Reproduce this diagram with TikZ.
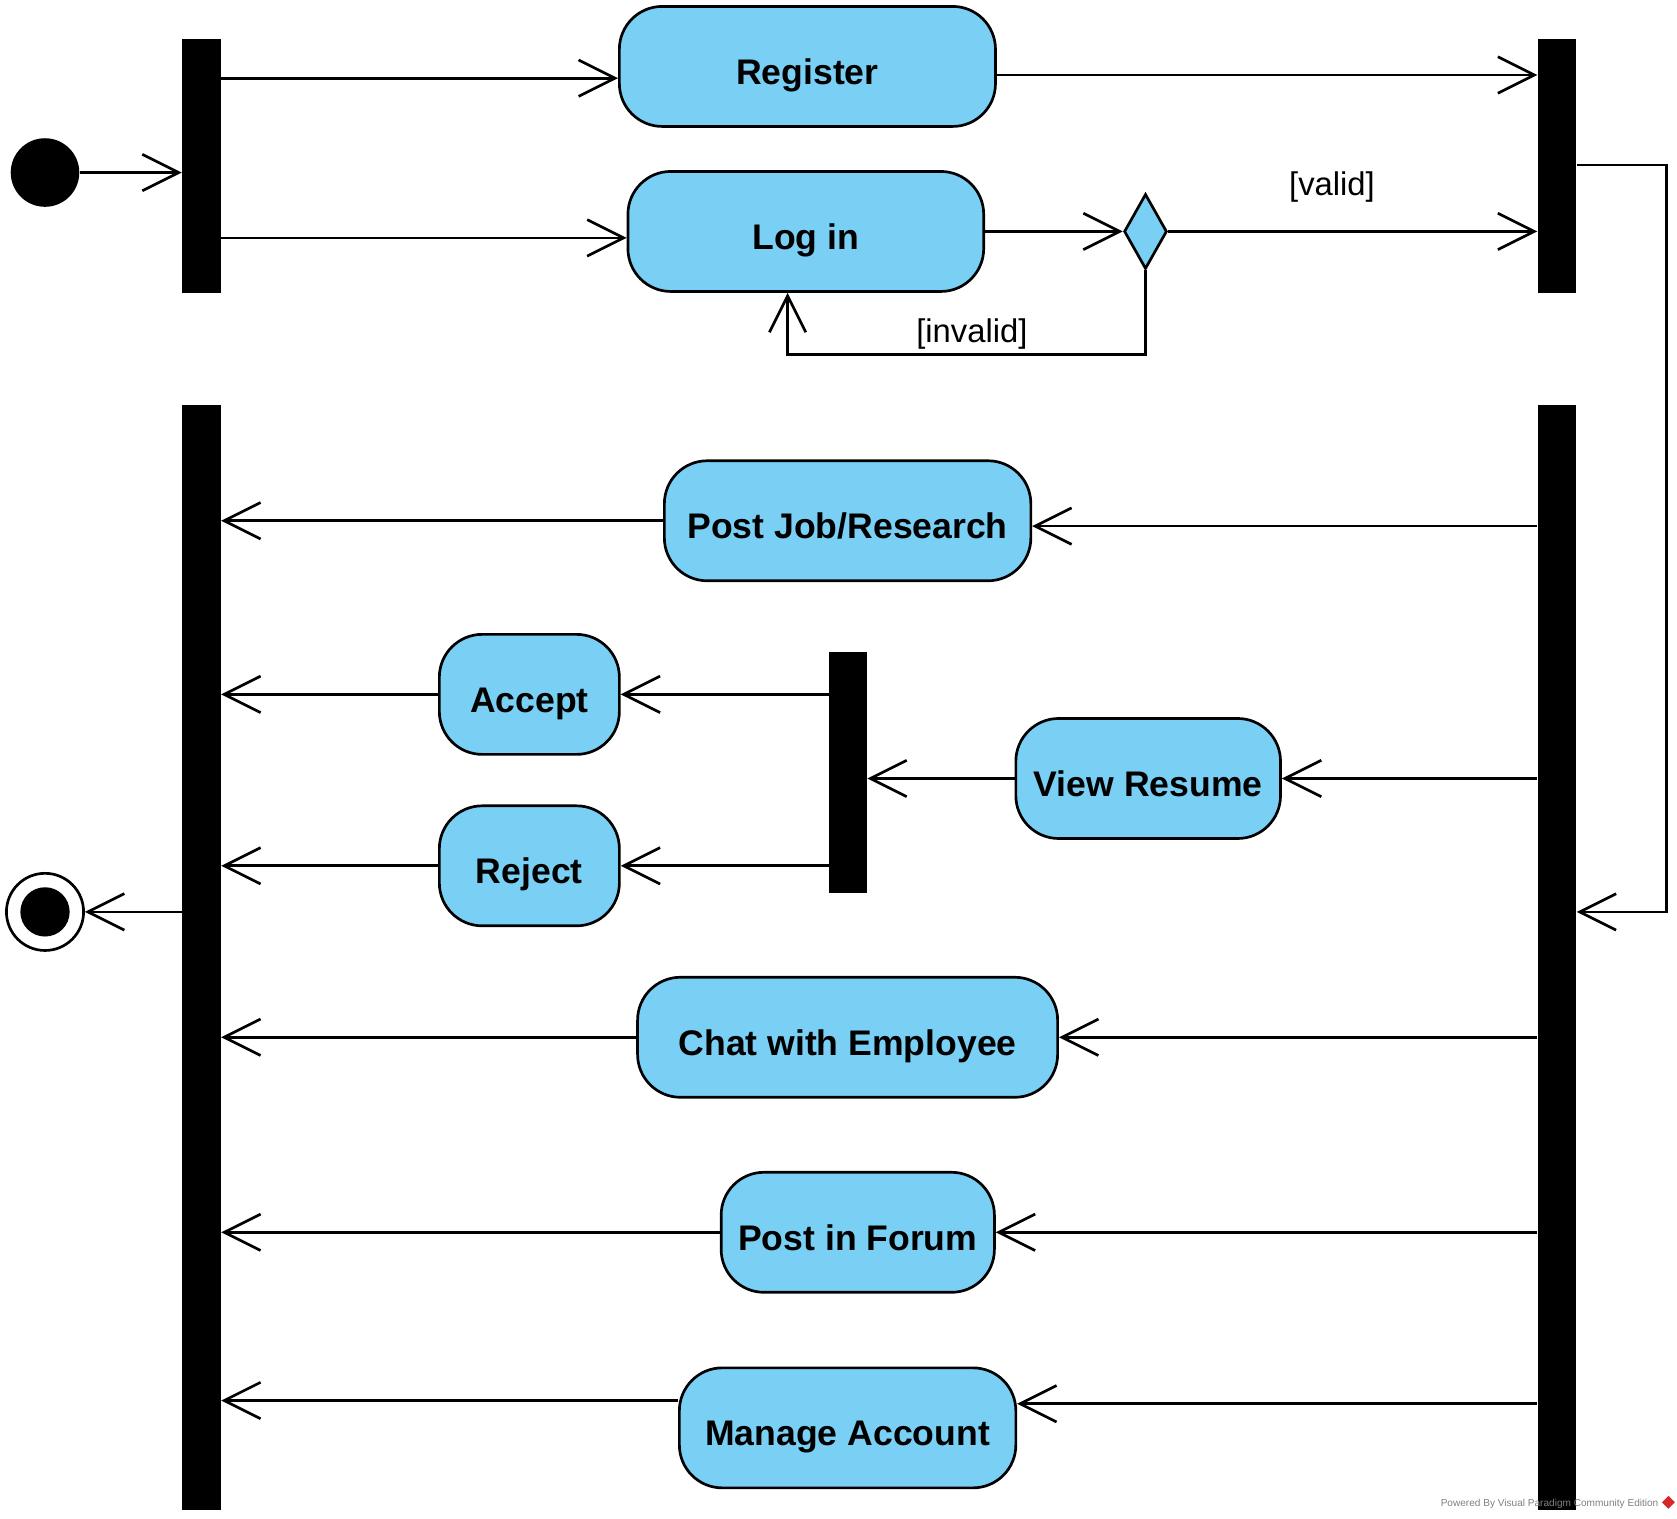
\documentclass[tikz,border=0pt]{standalone}
\usepackage{fontspec}
\setmainfont{Liberation Sans}
\usetikzlibrary{arrows.meta,shapes.geometric}
\definecolor{actblue}{RGB}{122,207,245}
\definecolor{vpred}{RGB}{214,40,40}

\begin{document}
\begin{tikzpicture}[x=0.5pt,y=-0.5pt,
    action/.style={draw,line width=1.25pt,fill=actblue,rounded corners=20pt,
        minimum height=56pt,inner sep=0pt,text height=16.7pt,text depth=0pt,
        font=\fontsize{16.6}{20}\selectfont\bfseries},
    bar/.style={fill=black,inner sep=0pt,minimum width=18pt},
    flow/.style={line width=1.25pt,-{Straight Barb[length=17pt,width=17pt]}},
    guard/.style={font=\fontsize{15.3}{18}\selectfont}]
    \useasboundingbox (0,0) rectangle (1565,1417);
    % start, first fork and join
    \node[circle,fill=black,minimum size=32pt,inner sep=0pt] (init) at (42,161) {};
    \node[bar,minimum height=118.5pt] (fork1) at (188,154.5) {};
    \node[bar,minimum height=118.5pt] (join1) at (1453,154.5) {};
    \node[action,minimum width=175.5pt] (reg) at (753.5,62) {Register};
    \node[action,minimum width=166pt] (login) at (752,216) {Log in};
    \node[diamond,draw,line width=1.25pt,fill=actblue,minimum width=20pt,
        minimum height=35pt,inner sep=0pt] (dec) at (1069,216) {};
    \draw[flow] (init) -- (fork1.west |- init);
    \draw[flow] (fork1.east |- 0,73) -- (reg.west |- 0,73);
    \draw[flow] (fork1.east |- 0,222) -- (login.west |- 0,222);
    \draw[flow] (reg.east |- 0,70) -- (join1.west |- 0,70);
    \draw[flow] (login.east |- dec) -- (dec.west);
    \draw[flow] (dec.east) -- (join1.west |- dec);
    \draw[flow] (dec.south) |- (735,331) -- (login.south -| 735,0);
    \node[guard] (valid) at (1243,175) {[valid]};
    \node[guard] (invalid) at (907,312) {[invalid]};
    % second fork and join
    \node[bar,minimum height=515.5pt] (join2) at (188,893.5) {};
    \node[bar,minimum height=515.5pt] (fork2) at (1453,893.5) {};
    \node[bar,minimum width=17.5pt,minimum height=112.5pt] (fork3) at (791.5,720.5) {};
    \draw[flow] (join1.east |- 0,154) -- ++(84,0) |- (fork2.east |- 0,851);
    \node[action,minimum width=171pt] (postjob) at (791,486) {Post Job/Research};
    \node[action,minimum width=84pt] (accept) at (494,648) {Accept};
    \node[action,minimum width=84pt] (reject) at (494,808) {Reject};
    \node[action,minimum width=123.5pt] (resume) at (1071.5,726.5) {View Resume};
    \node[action,minimum width=196pt] (chat) at (791,968) {Chat with Employee};
    \node[action,minimum width=127.5pt] (forum) at (800.5,1150) {Post in Forum};
    \node[action,minimum width=157pt] (manage) at (791,1332.5) {Manage Account};
    \draw[flow] (fork2.west |- 0,491) -- (postjob.east |- 0,491);
    \draw[flow] (postjob.west) -- (join2.east |- postjob);
    \draw[flow] (fork3.west |- accept) -- (accept.east);
    \draw[flow] (accept.west) -- (join2.east |- accept);
    \draw[flow] (fork3.west |- reject) -- (reject.east);
    \draw[flow] (reject.west) -- (join2.east |- reject);
    \draw[flow] (fork2.west |- resume) -- (resume.east);
    \draw[flow] (resume.west) -- (fork3.east |- resume);
    \draw[flow] (fork2.west |- chat) -- (chat.east);
    \draw[flow] (chat.west) -- (join2.east |- chat);
    \draw[flow] (fork2.west |- forum) -- (forum.east);
    \draw[flow] (forum.west) -- (join2.east |- forum);
    \draw[flow] (fork2.west |- 0,1310) -- (manage.east |- 0,1310);
    \draw[flow] (manage.west |- 0,1307) -- (join2.east |- 0,1307);
    % end
    \node[circle,draw,line width=1.25pt,fill=white,minimum size=36pt,inner sep=0pt] (final) at (42,851) {};
    \fill (final) circle (11.5pt);
    \draw[flow] (join2.west |- final) -- (final.east);
    % footer
    \node[anchor=east,text=gray,font=\fontsize{4.7}{6}\selectfont,inner sep=0pt] (powered) at (1548,1403) {Powered By Visual Paradigm Community Edition};
    \fill[vpred] (1557,1396) -- (1563,1402) -- (1557,1408) -- (1551,1402) -- cycle;
\end{tikzpicture}
\end{document}
